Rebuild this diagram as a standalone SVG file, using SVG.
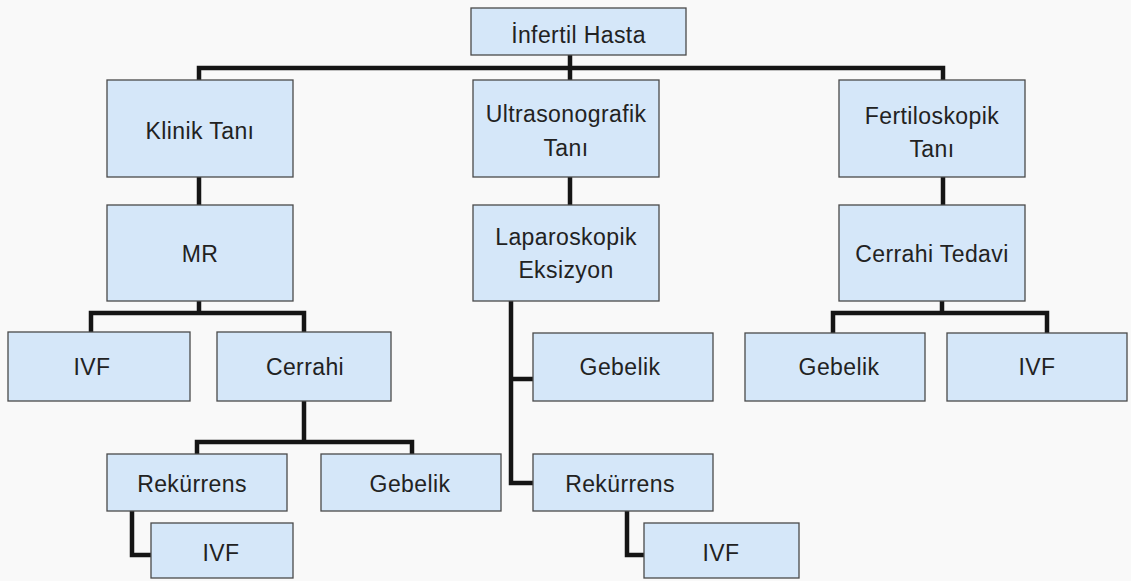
<svg xmlns="http://www.w3.org/2000/svg" width="1131" height="581" viewBox="0 0 1131 581">
<defs>
<style>
.box{fill:#d5e7f9;stroke:#4a4a4a;stroke-width:1.3}
.t{font-family:"Liberation Sans",Arial,sans-serif;font-size:23px;fill:#222;text-anchor:middle;letter-spacing:0.4px}
.c{fill:none;stroke:#151515;stroke-width:4.5;stroke-linejoin:miter;stroke-linecap:square}
</style>
</defs>
<rect width="1131" height="581" fill="#f9f9f9"/>
<g id="connectors">
<path class="c" d="M570,55 V68 M199,80 V68 H943 V80 M570,68 V80"/>
<path class="c" d="M199,177 V205"/>
<path class="c" d="M570,177 V205"/>
<path class="c" d="M943,177 V205"/>
<path class="c" d="M199,301 V313 M91,332 V313 H304 V332"/>
<path class="c" d="M304,401 V442 M197,454 V442 H412 V454"/>
<path class="c" d="M132,511 V555 H151"/>
<path class="c" d="M511,301 V483 H533 M511,379 H533"/>
<path class="c" d="M627,511 V555 H644"/>
<path class="c" d="M942,301 V313 M833,332 V313 H1047 V332"/>
</g>
<g id="n-infertil"><rect class="box" x="471" y="8" width="215" height="47"/><text class="t" x="578.5" y="43">İnfertil Hasta</text></g>
<g id="n-klinik"><rect class="box" x="107" y="80" width="186" height="97"/><text class="t" x="200" y="139">Klinik Tanı</text></g>
<g id="n-ultra"><rect class="box" x="473" y="80" width="186" height="97"/><text class="t" x="566" y="122">Ultrasonografik</text><text class="t" x="566" y="156">Tanı</text></g>
<g id="n-fertilo"><rect class="box" x="839" y="80" width="186" height="97"/><text class="t" x="932" y="124">Fertiloskopik</text><text class="t" x="932" y="157">Tanı</text></g>
<g id="n-mr"><rect class="box" x="107" y="205" width="186" height="96"/><text class="t" x="200" y="262">MR</text></g>
<g id="n-laparo"><rect class="box" x="473" y="205" width="186" height="96"/><text class="t" x="566" y="245">Laparoskopik</text><text class="t" x="566" y="278">Eksizyon</text></g>
<g id="n-cerrahitedavi"><rect class="box" x="839" y="205" width="186" height="96"/><text class="t" x="932" y="262">Cerrahi Tedavi</text></g>
<g id="n-ivf1"><rect class="box" x="8" y="332" width="182" height="69"/><text class="t" x="92" y="375">IVF</text></g>
<g id="n-cerrahi"><rect class="box" x="217" y="332" width="174" height="69"/><text class="t" x="305" y="375">Cerrahi</text></g>
<g id="n-gebelik2"><rect class="box" x="533" y="333" width="180" height="68"/><text class="t" x="620" y="375">Gebelik</text></g>
<g id="n-gebelik3"><rect class="box" x="745" y="333" width="180" height="68"/><text class="t" x="839" y="375">Gebelik</text></g>
<g id="n-ivf3"><rect class="box" x="947" y="333" width="180" height="68"/><text class="t" x="1037" y="375">IVF</text></g>
<g id="n-rek1"><rect class="box" x="107" y="454" width="180" height="57"/><text class="t" x="192" y="492">Rekürrens</text></g>
<g id="n-gebelik1"><rect class="box" x="321" y="454" width="180" height="57"/><text class="t" x="410" y="492">Gebelik</text></g>
<g id="n-rek2"><rect class="box" x="533" y="454" width="180" height="57"/><text class="t" x="620" y="492">Rekürrens</text></g>
<g id="n-ivf2"><rect class="box" x="151" y="523" width="142" height="55"/><text class="t" x="221" y="561">IVF</text></g>
<g id="n-ivf4"><rect class="box" x="644" y="523" width="155" height="55"/><text class="t" x="721" y="561">IVF</text></g>
</svg>
